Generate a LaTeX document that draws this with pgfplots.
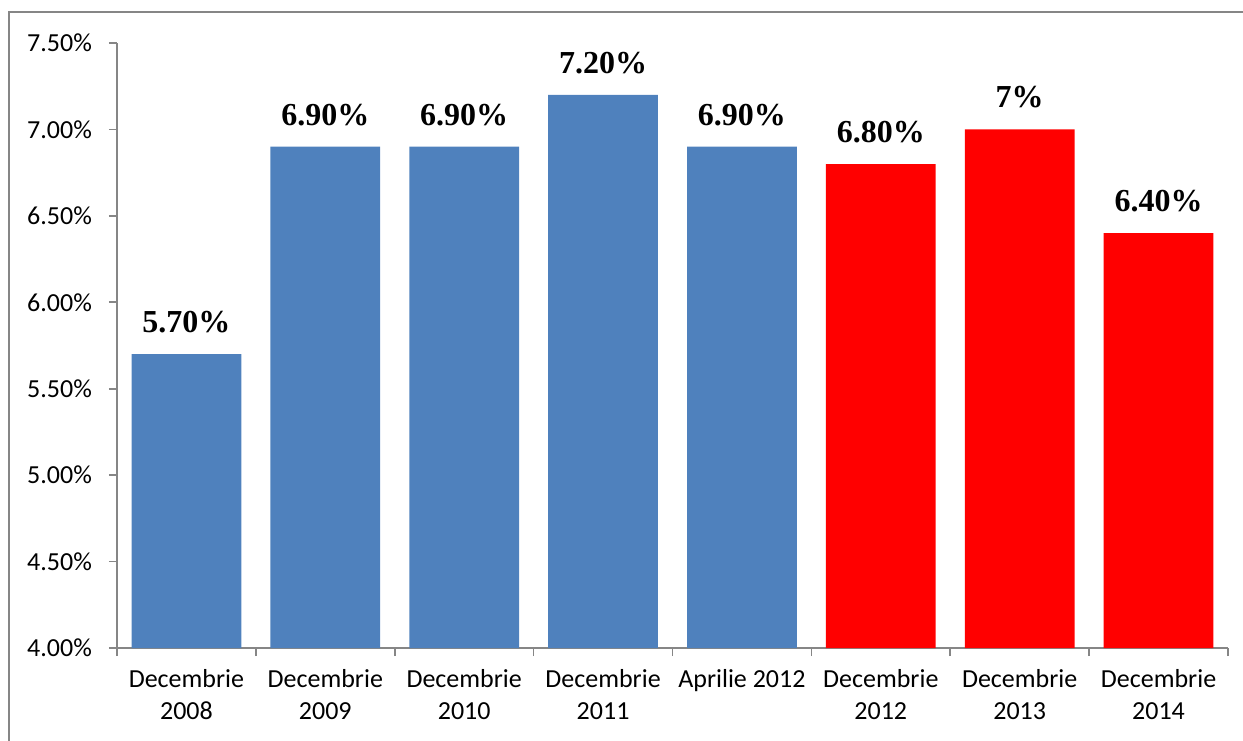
\documentclass[border=0pt]{standalone}
\usepackage{pgfplots}
\pgfplotsset{compat=1.18}
\usepackage{fontspec}
\setmainfont{Carlito}
\newfontfamily\timesb{Liberation Serif}
\definecolor{barblue}{HTML}{4F81BD}
\definecolor{barred}{HTML}{FF0000}
\definecolor{axgray}{HTML}{868686}
\begin{document}
\begin{tikzpicture}
\clip (0,0) rectangle (621.5pt,370pt);
\useasboundingbox (0,0) rectangle (621.5pt,370pt);
\draw[axgray, line width=0.8pt] (4.5pt,-10pt) rectangle (640pt,364pt);
\begin{axis}[
  at={(58.5pt,46pt)}, anchor=south west,
  scale only axis, width=555.5pt, height=302.5pt,
  ybar, bar width=0.79,
  xmin=-0.5, xmax=7.5, ymin=4, ymax=7.5,
  axis x line*=bottom, axis y line*=left,
  axis line style={axgray, line width=0.8pt},
  xtick={0,...,7},
  xticklabels={{Decembrie\\2008},{Decembrie\\2009},{Decembrie\\2010},{Decembrie\\2011},{Aprilie 2012},{Decembrie\\2012},{Decembrie\\2013},{Decembrie\\2014}},
  xticklabel style={align=center, font=\fontsize{13}{16}\selectfont, text=black, yshift=-3pt},
  major x tick style={draw=none},
  minor xtick={-0.5,0.5,...,7.5},
  minor tick length=4pt,
  x tick style={axgray, line width=0.8pt},
  tick align=outside,
  ytick={4,4.5,...,7.5},
  y tick style={axgray, line width=0.8pt},
  major tick length=4pt,
  yticklabel={\pgfmathprintnumber[fixed,fixed zerofill,precision=2]{\tick}\%},
  /pgf/number format/assume math mode=true,
  yticklabel style={font=\fontsize{13}{15}\selectfont, text=black, xshift=-5pt},
  nodes near coords,
  point meta=explicit symbolic,
  every node near coord/.append style={font=\timesb\bfseries\fontsize{16}{18}\selectfont, text=black, yshift=7pt},
  clip=false,
]
\addplot[fill=barblue, draw=none, bar shift=0pt] coordinates {
  (0,5.7) [5.70\%]
  (1,6.9) [6.90\%]
  (2,6.9) [6.90\%]
  (3,7.2) [7.20\%]
  (4,6.9) [6.90\%]
};
\addplot[fill=barred, draw=none, bar shift=0pt] coordinates {
  (5,6.8) [6.80\%]
  (6,7.0) [7\%]
  (7,6.4) [6.40\%]
};
\end{axis}
\end{tikzpicture}
\end{document}
